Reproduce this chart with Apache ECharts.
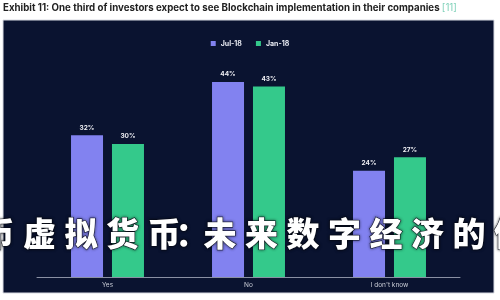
<!DOCTYPE html>
<html>
<head>
<meta charset="utf-8">
<script src="https://cdn.jsdelivr.net/npm/echarts@6/dist/echarts.min.js"></script>
<style>html,body{margin:0;padding:0;background:#fff;}#c{width:500px;height:300px;}</style>
</head>
<body>
<div id="c"></div>
<script>
var categories = ['Yes', 'No', "I don't know"];
var seriesNames = ['Jul-18', 'Jan-18'];
var jul18 = [32, 44, 24];
var jan18 = [30, 43, 27];
var titleText = 'Exhibit 11: One third of investors expect to see Blockchain implementation in their companies ';
var titleRef = '[11]';
var overlayChars = ['币', '虚', '拟', '货', '币', '：', '未', '来', '数', '字', '经', '济', '的', '催'];

var chart = echarts.init(document.getElementById('c'), null, {renderer: 'canvas'});

var graphics = [
  {type: 'rect', z: -10, shape: {x: 3, y: 20, width: 491, height: 273}, style: {fill: '#0a1330', stroke: '#d8dbe2', lineWidth: 1}},
  {type: 'text', left: 3, top: 3, style: {
    text: '{a|' + titleText + '}{b|' + titleRef + '}',
    rich: {
      a: {fontFamily: 'Inter', fontWeight: 'bold', fontSize: 9.7, fill: '#222222'},
      b: {fontFamily: 'Inter', fontSize: 9.7, fill: '#7fd1b9'}
    }
  }}
];
// overlay text, one glyph at a time (narrow punctuation)
var cx = -2;
for (var i = 0; i < overlayChars.length; i++) {
  var ch = overlayChars[i];
  if (i > 0) {
    var prevPunct = overlayChars[i - 1] === '：';
    var curPunct = ch === '：';
    cx += (prevPunct || curPunct) ? 28 : 41.5;
  }
  graphics.push({
    type: 'text', z: 100, x: cx, y: 233,
    style: {
      text: ch, fontFamily: 'Noto Sans CJK SC', fontWeight: 900, fontSize: 33,
      fill: '#ffffff', align: 'center', verticalAlign: 'middle',
      stroke: '#0a0f20', lineWidth: 1,
      textShadowColor: 'rgba(0,0,0,0.6)', textShadowBlur: 3
    }
  });
}

chart.setOption({
  backgroundColor: 'transparent',
  animation: false,
  legend: {
    top: 35, left: 'center', itemWidth: 5, itemHeight: 5, itemGap: 14, icon: 'rect',
    textStyle: {color: '#e6e8f0', fontSize: 7, fontWeight: 'bold', fontFamily: 'Inter'},
    data: seriesNames
  },
  grid: {left: 37, right: 40, top: 55.4, bottom: 23},
  xAxis: {
    type: 'category', data: categories,
    axisLine: {lineStyle: {color: '#8a90a3', width: 1}},
    axisTick: {show: false},
    axisLabel: {color: '#c9ccd6', fontSize: 6.5, fontFamily: 'Inter', margin: 5}
  },
  yAxis: {type: 'value', min: 0, max: 50, show: false, splitLine: {show: false}},
  series: [
    {name: seriesNames[0], type: 'bar', data: jul18, barWidth: 32, barGap: '28%',
      itemStyle: {color: '#8282f0'},
      label: {show: true, position: 'top', distance: 4, formatter: '{c}%', color: '#f0f0f5', fontSize: 6.5, fontWeight: 'bold', fontFamily: 'Inter'}},
    {name: seriesNames[1], type: 'bar', data: jan18, barWidth: 32,
      itemStyle: {color: '#34c98b'},
      label: {show: true, position: 'top', distance: 4, formatter: '{c}%', color: '#f0f0f5', fontSize: 6.5, fontWeight: 'bold', fontFamily: 'Inter'}}
  ],
  graphic: graphics
});
</script>
</body>
</html>
